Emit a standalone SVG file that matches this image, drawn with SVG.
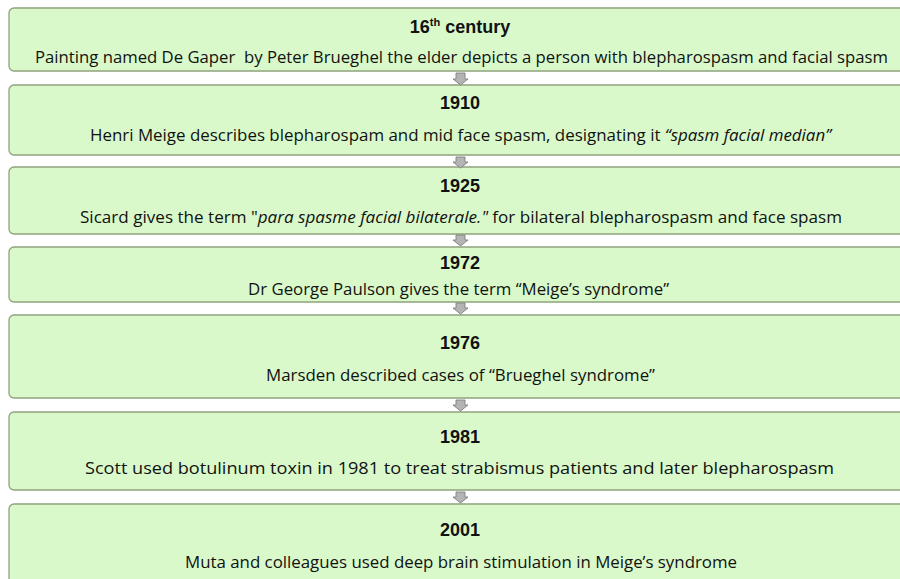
<svg xmlns="http://www.w3.org/2000/svg" width="900" height="579" viewBox="0 0 900 579">
<defs>
<style>
.box{fill:#d9f9ca;stroke:#8ea37f;stroke-width:1.3}
.arr{fill:#b4b4b4;stroke:#7f7f7f;stroke-width:0.9}
.t{font-family:"Liberation Sans","Open Sans",sans-serif;font-weight:bold;font-size:18px;fill:#111;text-anchor:middle}
.b{font-family:"Open Sans","Liberation Sans",sans-serif;font-size:16px;fill:#111;text-anchor:middle;white-space:pre}
.i{font-style:italic}
</style>
</defs>
<rect width="900" height="579" fill="#fff"/>
<g id="n1">
<rect class="box" x="9" y="8" width="905" height="63" rx="5"/>
<text class="t" x="460" y="33">16<tspan font-size="11" dy="-7">th</tspan><tspan dy="7"> century</tspan></text>
<text class="b" x="461.5" y="63" textLength="853" lengthAdjust="spacingAndGlyphs">Painting named De Gaper  by Peter Brueghel the elder depicts a person with blepharospasm and facial spasm</text>
</g>
<g id="n2">
<rect class="box" x="9" y="85" width="905" height="70" rx="5"/>
<text class="t" x="460" y="109">1910</text>
<text class="b" x="460.5" y="141" textLength="741" lengthAdjust="spacingAndGlyphs">Henri Meige describes blepharospam and mid face spasm, designating it <tspan class="i">“spasm facial median”</tspan></text>
</g>
<g id="n3">
<rect class="box" x="9" y="167" width="905" height="67" rx="5"/>
<text class="t" x="460" y="192">1925</text>
<text class="b" x="461" y="223" textLength="762" lengthAdjust="spacingAndGlyphs">Sicard gives the term "<tspan class="i">para spasme facial bilaterale."</tspan> for bilateral blepharospasm and face spasm</text>
</g>
<g id="n4">
<rect class="box" x="9" y="247" width="905" height="55" rx="5"/>
<text class="t" x="460" y="269">1972</text>
<text class="b" x="458.5" y="295" textLength="421" lengthAdjust="spacingAndGlyphs">Dr George Paulson gives the term “Meige’s syndrome”</text>
</g>
<g id="n5">
<rect class="box" x="9" y="315" width="905" height="83" rx="5"/>
<text class="t" x="460" y="349">1976</text>
<text class="b" x="460.5" y="381" textLength="389" lengthAdjust="spacingAndGlyphs">Marsden described cases of “Brueghel syndrome”</text>
</g>
<g id="n6">
<rect class="box" x="9" y="412" width="905" height="78" rx="5"/>
<text class="t" x="460" y="443">1981</text>
<text class="b" x="459.5" y="474" textLength="749" lengthAdjust="spacingAndGlyphs">Scott used botulinum toxin in 1981 to treat strabismus patients and later blepharospasm</text>
</g>
<g id="n7">
<rect class="box" x="9" y="504" width="905" height="90" rx="5"/>
<text class="t" x="460" y="536">2001</text>
<text class="b" x="461" y="568" textLength="552" lengthAdjust="spacingAndGlyphs">Muta and colleagues used deep brain stimulation in Meige’s syndrome</text>
</g>
<g id="connectors">
<path class="arr" d="M456,73 H465 V79 H468 L460.5,85 L453,79 H456 Z"/>
<path class="arr" d="M456,157 H465 V162 H468 L460.5,168 L453,162 H456 Z"/>
<path class="arr" d="M456,235 H465 V240 H468 L460.5,246 L453,240 H456 Z"/>
<path class="arr" d="M456,303 H465 V308 H468 L460.5,314 L453,308 H456 Z"/>
<path class="arr" d="M456,400 H465 V405 H468 L460.5,411 L453,405 H456 Z"/>
<path class="arr" d="M456,492 H465 V497 H468 L460.5,503 L453,497 H456 Z"/>
</g>
</svg>
